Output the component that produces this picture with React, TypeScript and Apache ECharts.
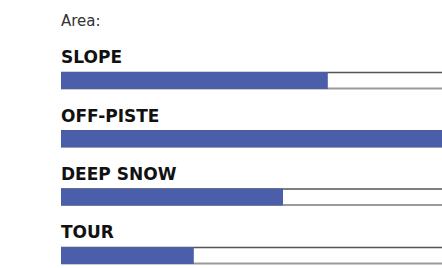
import React, { useEffect, useRef } from "react";
import * as echarts from "echarts";

const categories = ["SLOPE", "OFF-PISTE", "DEEP SNOW", "TOUR"];
const values = [66.7, 100, 55.5, 33.2];
const trackMax = [100, 100, 100, 100];
const titleText = "Area:";

export default function App() {
  const ref = useRef<HTMLDivElement>(null);
  useEffect(() => {
    const chart = echarts.init(ref.current!, null, { renderer: "svg" });
    const barH = 17;
    chart.setOption({
      animation: false,
      backgroundColor: "#ffffff",
      title: {
        text: titleText,
        left: 56,
        top: 8,
        textStyle: {
          fontFamily: "DejaVu Sans",
          fontSize: 15,
          fontWeight: "normal",
          color: "#333333",
        },
      },
      grid: { left: 61, top: 51.3, width: 400, height: 233.3, containLabel: false },
      xAxis: { type: "value", min: 0, max: 100, show: false },
      yAxis: {
        type: "category",
        data: categories,
        inverse: true,
        show: false,
      },
      series: [
        {
          type: "custom",
          data: trackMax.map((v, i) => [v, i]),
          encode: { x: 0, y: 1 },
          z: 1,
          renderItem: (params: any, api: any) => {
            const end = api.coord([api.value(0), api.value(1)]);
            const start = api.coord([0, api.value(1)]);
            const y0 = end[1] - barH / 2;
            const y1 = end[1] + barH / 2;
            return {
              type: "group",
              children: [
                {
                  type: "rect",
                  shape: { x: start[0], y: y0, width: end[0] - start[0], height: barH },
                  style: { fill: "#ffffff" },
                },
                {
                  type: "line",
                  shape: { x1: start[0], y1: y0 + 0.5, x2: end[0], y2: y0 + 0.5 },
                  style: { stroke: "#555555", lineWidth: 1.5 },
                },
                {
                  type: "line",
                  shape: { x1: start[0], y1: y1 - 0.5, x2: end[0], y2: y1 - 0.5 },
                  style: { stroke: "#9a9a9a", lineWidth: 2 },
                },
              ],
            };
          },
        },
        {
          type: "bar",
          data: values,
          barWidth: barH,
          z: 3,
          itemStyle: { color: "#4a5ea9" },
          label: {
            show: true,
            position: [0, -6],
            verticalAlign: "bottom",
            align: "left",
            formatter: (p: any) => categories[p.dataIndex],
            fontFamily: "DejaVu Sans",
            fontWeight: "bold",
            fontSize: 17,
            color: "#111111",
          },
        },
      ],
    });
    return () => chart.dispose();
  }, []);
  return (
    <div style={{ width: 442, height: 268, position: "absolute", left: 0, top: 0, overflow: "hidden", background: "#fff" }}>
      <div ref={ref} style={{ width: 480, height: 300 }} />
    </div>
  );
}
